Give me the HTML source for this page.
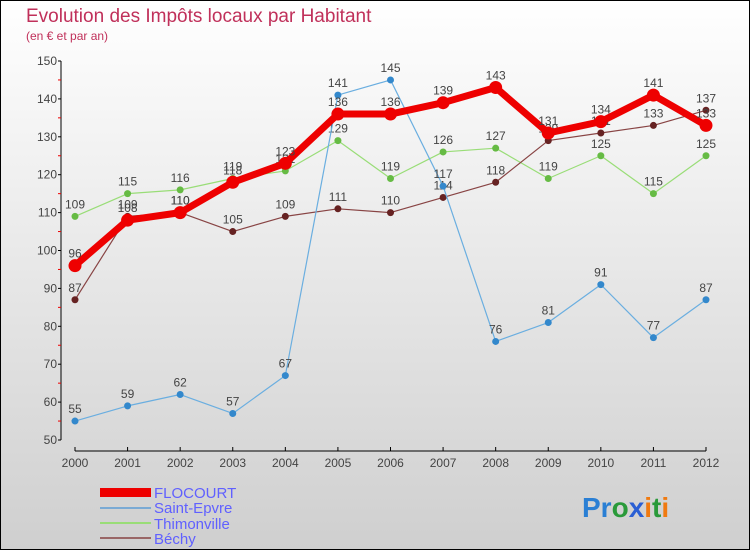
<!DOCTYPE html>
<html><head><meta charset="utf-8"><style>
html,body{margin:0;padding:0}
body{width:750px;height:550px;overflow:hidden;font-family:"Liberation Sans",sans-serif}
</style></head><body>
<svg id="chart" width="750" height="550" xmlns="http://www.w3.org/2000/svg" font-family="Liberation Sans, sans-serif">
<defs><linearGradient id="bg" x1="0" y1="0" x2="0" y2="1"><stop offset="0" stop-color="#ffffff"/><stop offset="1" stop-color="#cfcfcf"/></linearGradient></defs>
<rect x="0.5" y="0.5" width="749" height="549" fill="url(#bg)" stroke="#000"/>
<text x="26" y="22" font-size="19" fill="#c0305a">Evolution des Impôts locaux par Habitant</text>
<text x="26" y="40" font-size="12" fill="#c0305a">(en € et par an)</text>
<g id="axes"></g><g id="series"></g>
<g>
<rect x="100" y="488" width="51" height="9" fill="#e00"/>
<text x="154" y="498" font-size="15" fill="#6060ff">FLOCOURT</text>
<line x1="100" y1="546" x2="151" y2="546" stroke="#7aaad4" stroke-width="2" transform="translate(0,-38)"/>
<text x="154" y="513" font-size="15" fill="#6060ff">Saint-Epvre</text>
<line x1="100" y1="523" x2="151" y2="523" stroke="#99dd77" stroke-width="2"/>
<text x="154" y="529" font-size="15" fill="#6060ff">Thimonville</text>
<line x1="100" y1="538" x2="151" y2="538" stroke="#996666" stroke-width="2"/>
<text x="154" y="544" font-size="15" fill="#6060ff">Béchy</text>
</g>
<text x="582" y="517" font-size="28" font-weight="bold"><tspan fill="#2a7fd4">Pr</tspan><tspan fill="#2a9a3a">o</tspan><tspan fill="#2a5fd4">x</tspan><tspan fill="#f07a10">i</tspan><tspan fill="#2a9a3a">t</tspan><tspan fill="#f07a10">i</tspan></text>
</svg>
<script>
const years=["2000","2001","2002","2003","2004","2005","2006","2007","2008","2009","2010","2011","2012"];
const flocourt=[96,108,110,118,123,136,136,139,143,131,134,141,133];
const saintEpvre=[55,59,62,57,67,141,145,117,76,81,91,77,87];
const thimonville=[109,115,116,119,121,129,119,126,127,119,125,115,125];
const bechy=[87,109,110,105,109,111,110,114,118,129,131,133,137];
const yTicks=[50,60,70,80,90,100,110,120,130,140,150];
const NS="http://www.w3.org/2000/svg";
const X=i=>75+i*(706-75)/(years.length-1);
const Y=v=>440-(v-50)*(440-61)/100;
function mk(tag,attrs,parent){const e=document.createElementNS(NS,tag);for(const k in attrs)e.setAttribute(k,attrs[k]);parent.appendChild(e);return e;}
const ax=document.getElementById('axes');
let yl=mk('line',{x1:61,y1:Y(150),x2:61,y2:Y(50),stroke:'#000'},ax);


yTicks.forEach(t=>{mk('line',{x1:58,y1:Y(t),x2:61,y2:Y(t),stroke:'#000'},ax);
 if(t<150)mk('line',{x1:58,y1:Y(t+5),x2:61,y2:Y(t+5),stroke:'#e00'},ax);
 const tx=mk('text',{x:57,y:Y(t)+4,'text-anchor':'end','font-size':12,fill:'#444'},ax);tx.textContent=t;
 
 });
let xl=mk('line',{x1:75,y1:451,x2:706,y2:451,stroke:'#000'},ax);


years.forEach((y,i)=>{mk('line',{x1:X(i),y1:447,x2:X(i),y2:451,stroke:'#000'},ax);
 const tx=mk('text',{x:X(i),y:467,'text-anchor':'middle','font-size':12,fill:'#444'},ax);tx.textContent=y;
 
 });
const sg=document.getElementById('series');
function draw(name,data,color,w,r,dot){
 const g=mk('g',{},sg);
 
 
 mk('polyline',{points:data.map((v,i)=>X(i)+','+Y(v)).join(' '),fill:'none',stroke:color,'stroke-width':w,'stroke-linejoin':'round'},g);
 data.forEach((v,i)=>{const c=mk('circle',{cx:X(i),cy:Y(v),r:r,fill:dot},g);
  
  
  const t=mk('text',{x:X(i),y:Y(v)-8,'text-anchor':'middle','font-size':12,fill:'#444'},g);t.textContent=v;
  
  });
}
draw('thimonville',thimonville,'#99dd77',1.2,3.5,'#66bb44');
draw('bechy',bechy,'#884444',1.2,3.5,'#662222');
draw('saint-epvre',saintEpvre,'#6aaee0',1.2,3.5,'#3388cc');
draw('flocourt',flocourt,'#ee0000',7,6.5,'#ee0000');
</script>
</body></html>
